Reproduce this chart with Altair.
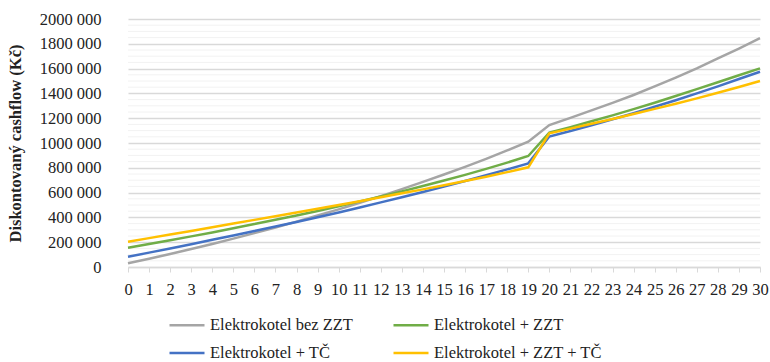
import altair as alt
import pandas as pd

# Years of the evaluation period
years = list(range(0, 31))

# Discounted cash flow (Kč) for each heating variant
bez_zzt = [30000, 67000, 105000, 145000, 186000, 229000, 273000, 319000, 366000, 415000,
           465000, 518000, 572000, 628000, 686000, 746000, 808000, 872000, 940000, 1010000,
           1145000, 1203000, 1263000, 1324000, 1387000, 1456000, 1528000, 1602000, 1682000,
           1762000, 1845000]
plus_zzt = [156000, 186000, 216000, 247000, 279000, 312000, 346000, 381000, 416000, 452000,
            490000, 529000, 569000, 610000, 653000, 697000, 743000, 791000, 842000, 895000,
            1083000, 1128000, 1175000, 1223000, 1273000, 1325000, 1379000, 1434000, 1490000,
            1546000, 1602000]
plus_tc = [83000, 116000, 150000, 184000, 219000, 254000, 290000, 326000, 363000, 401000,
           440000, 480000, 521000, 562000, 605000, 648000, 693000, 740000, 787000, 836000,
           1052000, 1097000, 1143000, 1191000, 1240000, 1292000, 1345000, 1400000, 1457000,
           1516000, 1575000]
plus_zzt_tc = [204000, 233000, 262000, 291000, 320000, 350000, 380000, 410000, 440000, 470000,
               500000, 531000, 562000, 594000, 626000, 659000, 693000, 728000, 765000, 804000,
               1078000, 1116000, 1155000, 1194000, 1234000, 1275000, 1317000, 1360000, 1405000,
               1452000, 1500000]

series_names = ["Elektrokotel bez ZZT", "Elektrokotel + ZZT", "Elektrokotel + TČ",
                "Elektrokotel + ZZT + TČ"]
series_values = [bez_zzt, plus_zzt, plus_tc, plus_zzt_tc]
series_colors = ["#A5A5A5", "#70AD47", "#4472C4", "#FFC000"]

# Axis tick values
y_major = [0, 200000, 400000, 600000, 800000, 1000000, 1200000, 1400000, 1600000,
           1800000, 2000000]
y_minor = [v for v in range(0, 2000001, 50000) if v % 200000 != 0]

rows = []
for name, vals in zip(series_names, series_values):
    for yr, v in zip(years, vals):
        rows.append({"rok": yr, "cashflow": v, "varianta": name})
df = pd.DataFrame(rows)
minor_df = pd.DataFrame({"cashflow": y_minor})

FONT = "Times New Roman, Liberation Serif, serif"
FS = 16.5
TEXT = "#222222"
y_scale = alt.Scale(domain=[0, 2000000], nice=False, zero=True)
x_scale = alt.Scale(domain=[0, 30], nice=False)

y_axis = alt.Axis(
    values=y_major,
    title="Diskontovaný cashflow (Kč)",
    titleFont=FONT,
    titleFontSize=FS,
    titleFontWeight="bold",
    titleColor=TEXT,
    titleX=-113,
    titleY=124,
    titleAngle=270,
    titleAlign="center",
    titleBaseline="middle",
    labelExpr="datum.value == 0 ? '0' : format(floor(datum.value / 1000), 'd') + ' 000'",
    labelFont=FONT,
    labelFontSize=FS,
    labelColor=TEXT,
    labelPadding=27,
    ticks=False,
    domain=False,
    grid=True,
    gridColor="#d9d9d9",
    gridWidth=1.5,
)

# Faint minor gridlines every 50 000
minor_grid = alt.Chart(minor_df).mark_rule(color="#f2f2f2", strokeWidth=1).encode(
    y=alt.Y("cashflow:Q", scale=y_scale, axis=y_axis, title="Diskontovaný cashflow (Kč)")
)

lines = alt.Chart(df).mark_line(strokeWidth=2.5).encode(
    x=alt.X(
        "rok:Q",
        scale=x_scale,
        axis=alt.Axis(
            values=years,
            title=None,
            grid=False,
            domainColor="#d9d9d9",
            domainWidth=1.5,
            tickColor="#d9d9d9",
            tickSize=5,
            labelPadding=9,
            labelFont=FONT,
            labelFontSize=FS,
            labelColor=TEXT,
            labelFlush=False,
            labelOverlap=False,
        ),
    ),
    y=alt.Y("cashflow:Q", scale=y_scale, axis=y_axis, title="Diskontovaný cashflow (Kč)"),
    color=alt.Color(
        "varianta:N",
        scale=alt.Scale(domain=series_names, range=series_colors),
        legend=alt.Legend(
            title=None,
            orient="none",
            legendX=40,
            legendY=287,
            direction="horizontal",
            columns=2,
            symbolType="stroke",
            symbolSize=1225,
            symbolStrokeWidth=2.5,
            labelFont=FONT,
            labelFontSize=FS,
            labelColor=TEXT,
            labelOffset=4,
            columnPadding=35,
            rowPadding=-7,
            labelLimit=300,
        ),
    ),
)

chart = alt.layer(minor_grid, lines).properties(
    width=632,
    height=248,
    autosize=alt.AutoSizeParams(type="none"),
    padding={"left": 128, "top": 19, "right": 10, "bottom": 95},
).configure(font=FONT).configure_view(stroke=None)

chart.save("out.html", embed_options={"renderer": "svg", "actions": False})
